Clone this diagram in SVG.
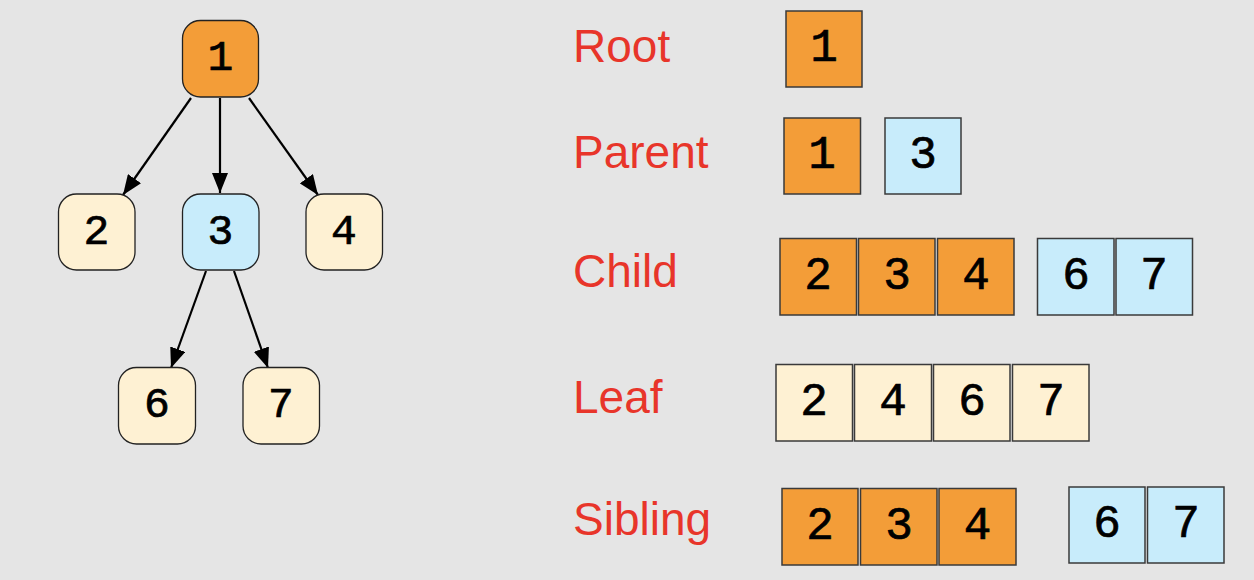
<svg xmlns="http://www.w3.org/2000/svg" width="1254" height="580" viewBox="0 0 1254 580">
<style>
.bg{fill:#e5e5e5}
.tn{stroke:#222;stroke-width:1.3}
.bx{stroke:#3a3a3a;stroke-width:1.5}
.or{fill:#f39d38}
.bl{fill:#c8ecfb}
.cr{fill:#fef1d3}
.num{font-family:"Liberation Mono","Courier New",monospace;font-size:43px;fill:#000;stroke:#000;stroke-width:0.7;text-anchor:middle}
.bnum{font-family:"Liberation Mono","Courier New",monospace;font-size:46px;fill:#000;stroke:#000;stroke-width:0.7;text-anchor:middle}
.lbl{font-family:"Liberation Sans",Arial,sans-serif;font-size:46px;fill:#e8352a}
.edge{stroke:#000;stroke-width:2.2;fill:none;marker-end:url(#ah)}
</style>
<defs>
<marker id="ah" markerUnits="userSpaceOnUse" markerWidth="20" markerHeight="16" viewBox="0 0 20 16" refX="20" refY="8" orient="auto">
<path d="M0,0 L20,8 L0,16 Z" fill="#000"/>
</marker>
</defs>
<rect class="bg" x="0" y="0" width="1254" height="580"/>

<g id="connectors">
<path class="edge" d="M191,98 L123,195"/>
<path class="edge" d="M220,98 L220,193"/>
<path class="edge" d="M249,98 L318,195"/>
<path class="edge" d="M206,271 L171,368"/>
<path class="edge" d="M234,271 L268,368"/>
</g>

<g id="node1"><rect class="tn or" x="182.5" y="20.5" width="76" height="76.5" rx="18"/><text class="num" x="220.5" y="70">1</text></g>
<g id="node2"><rect class="tn cr" x="58.5" y="194" width="76.5" height="76" rx="18"/><text class="num" x="96.5" y="243.5">2</text></g>
<g id="node3"><rect class="tn bl" x="182.5" y="194" width="76.5" height="76" rx="18"/><text class="num" x="220.5" y="243.5">3</text></g>
<g id="node4"><rect class="tn cr" x="306" y="194" width="76.5" height="76" rx="18"/><text class="num" x="344" y="243.5">4</text></g>
<g id="node6"><rect class="tn cr" x="118.5" y="367.5" width="77" height="76.5" rx="18"/><text class="num" x="157" y="417">6</text></g>
<g id="node7"><rect class="tn cr" x="243" y="367.5" width="76.5" height="76.5" rx="18"/><text class="num" x="281" y="417">7</text></g>

<g id="root-row">
<text class="lbl" x="573" y="62">Root</text>
<rect class="bx or" x="786" y="11" width="76" height="76"/><text class="bnum" x="824" y="61">1</text>
</g>

<g id="parent-row">
<text class="lbl" x="573" y="168">Parent</text>
<rect class="bx or" x="784" y="118" width="76.5" height="76"/><text class="bnum" x="822" y="168">1</text>
<rect class="bx bl" x="885" y="118" width="76" height="76"/><text class="bnum" x="923" y="168">3</text>
</g>

<g id="child-row">
<text class="lbl" x="573" y="287">Child</text>
<rect class="bx or" x="780" y="238.5" width="76.5" height="76.5"/><text class="bnum" x="818" y="288.5">2</text>
<rect class="bx or" x="858.5" y="238.5" width="76.5" height="76.5"/><text class="bnum" x="897" y="288.5">3</text>
<rect class="bx or" x="937.5" y="238.5" width="76.5" height="76.5"/><text class="bnum" x="976" y="288.5">4</text>
<rect class="bx bl" x="1037.5" y="238.5" width="76.5" height="76.5"/><text class="bnum" x="1076" y="288.5">6</text>
<rect class="bx bl" x="1116" y="238.5" width="76.5" height="76.5"/><text class="bnum" x="1154" y="288.5">7</text>
</g>

<g id="leaf-row">
<text class="lbl" x="573" y="413">Leaf</text>
<rect class="bx cr" x="776" y="364.5" width="76.5" height="76.5"/><text class="bnum" x="814" y="414.5">2</text>
<rect class="bx cr" x="854.5" y="364.5" width="77" height="76.5"/><text class="bnum" x="893" y="414.5">4</text>
<rect class="bx cr" x="933.5" y="364.5" width="76.5" height="76.5"/><text class="bnum" x="972" y="414.5">6</text>
<rect class="bx cr" x="1012.5" y="364.5" width="76.5" height="76.5"/><text class="bnum" x="1051" y="414.5">7</text>
</g>

<g id="sibling-row">
<text class="lbl" x="573" y="535">Sibling</text>
<rect class="bx or" x="782" y="488.5" width="76" height="76.5"/><text class="bnum" x="820" y="538.5">2</text>
<rect class="bx or" x="860.5" y="488.5" width="76.5" height="76.5"/><text class="bnum" x="899" y="538.5">3</text>
<rect class="bx or" x="939" y="488.5" width="77" height="76.5"/><text class="bnum" x="977.5" y="538.5">4</text>
<rect class="bx bl" x="1069" y="487" width="76" height="76"/><text class="bnum" x="1107" y="537">6</text>
<rect class="bx bl" x="1147.5" y="487" width="76.5" height="76"/><text class="bnum" x="1186" y="537">7</text>
</g>
</svg>
